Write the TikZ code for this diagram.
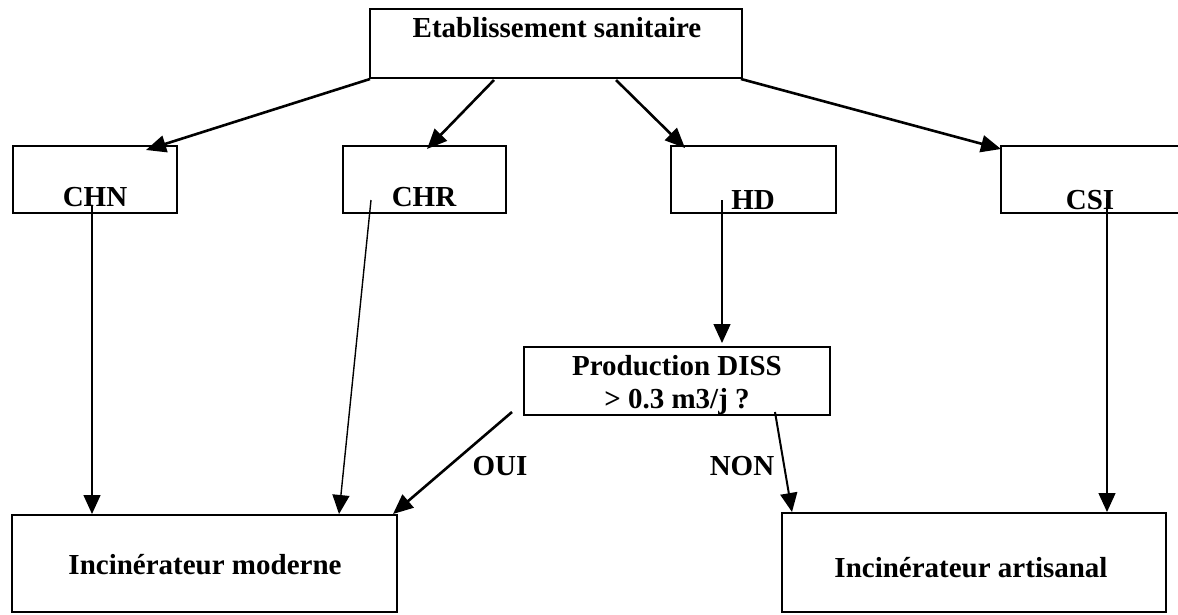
\documentclass[tikz,border=0pt]{standalone}
\usepackage{fontspec}
\setmainfont{Liberation Serif}
\usetikzlibrary{arrows.meta}
\tikzset{
  box/.style={draw, line width=1.8pt, inner sep=0pt},
  lbl/.style={font=\bfseries\fontsize{29}{33}\selectfont, inner sep=0pt, anchor=base},
  bigarrow/.style={line width=2.6pt, -{Triangle[length=20pt,width=17pt]}},
  midarrow/.style={line width=2pt, -{Triangle[length=19pt,width=17pt]}},
  smallarrow/.style={line width=1.4pt, -{Triangle[length=19pt,width=17pt]}},
}
\begin{document}
\begin{tikzpicture}[x=1pt,y=-1pt]
\useasboundingbox (0,0) rectangle (1178,614);
\clip (0,0) rectangle (1178,614);
% boxes
\node[box, minimum width=372pt, minimum height=69pt] (top) at (556,43.5) {};
\node[box, minimum width=164pt, minimum height=67pt] (chn) at (95,179.5) {};
\node[box, minimum width=163pt, minimum height=67pt] (chr) at (424.5,179.5) {};
\node[box, minimum width=165pt, minimum height=67pt] (hd) at (753.5,179.5) {};
\node[box, minimum width=189pt, minimum height=67pt] (csi) at (1095.5,179.5) {};
\node[box, minimum width=306pt, minimum height=68pt] (prod) at (677,381) {};
\node[box, minimum width=385pt, minimum height=97pt] (mod) at (204.5,563.5) {};
\node[box, minimum width=384pt, minimum height=99pt] (art) at (974,562.5) {};
% labels
\node[lbl] (topl) at (557,37) {Etablissement sanitaire};
\node[lbl] (chnl) at (95,206) {CHN};
\node[lbl] (chrl) at (424,206) {CHR};
\node[lbl] (hdl) at (753,209) {HD};
\node[lbl] (csil) at (1090,209) {CSI};
\node[lbl, align=center] (prodl) at (677,408) {Production DISS\\> 0.3 m3/j ?};
\node[lbl] (modl) at (205,574) {Incinérateur moderne};
\node[lbl] (artl) at (971,577) {Incinérateur artisanal};
\node[lbl] (oui) at (500,475) {OUI};
\node[lbl] (non) at (742,475) {NON};
% connector end points
\coordinate (t1) at (370,79);
\coordinate (t2) at (494,80);
\coordinate (t3) at (616,80);
\coordinate (t4) at (741,79);
\coordinate (chnin) at (146,150);
\coordinate (chrin) at (427,149);
\coordinate (hdin) at (685,148);
\coordinate (csiin) at (1001,149);
\coordinate (chnout) at (92,205);
\coordinate (chrout) at (371,200);
\coordinate (hdout) at (722,200);
\coordinate (csiout) at (1107,198);
\coordinate (modin1) at (92,514);
\coordinate (modin2) at (339,514);
\coordinate (modin3) at (393,514);
\coordinate (prodin) at (722,343);
\coordinate (ouiout) at (512,412);
\coordinate (nonout) at (775,412);
\coordinate (artin1) at (792,512);
\coordinate (artin2) at (1107,512);
% connectors
\draw[bigarrow] (t1) -- (chnin);
\draw[bigarrow] (t2) -- (chrin);
\draw[bigarrow] (t3) -- (hdin);
\draw[bigarrow] (t4) -- (csiin);
\draw[smallarrow] (chnout) -- (modin1);
\draw[smallarrow] (chrout) -- (modin2);
\draw[smallarrow] (hdout) -- (prodin);
\draw[smallarrow] (csiout) -- (artin2);
\draw[bigarrow] (ouiout) -- (modin3);
\draw[midarrow] (nonout) -- (artin1);
\end{tikzpicture}
\end{document}
